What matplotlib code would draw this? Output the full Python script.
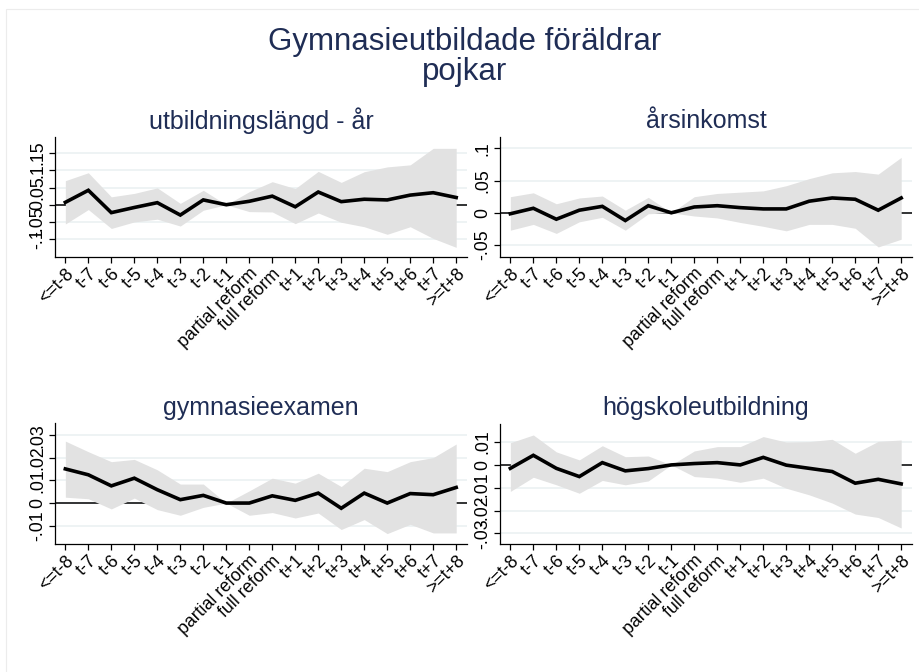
import matplotlib.pyplot as plt
from matplotlib.patches import Rectangle
import numpy as np

plt.rcParams['font.family'] = ['Liberation Sans', 'DejaVu Sans']

categories = ["<=t-8", "t-7", "t-6", "t-5", "t-4", "t-3", "t-2", "t-1",
              "partial reform", "full reform", "t+1", "t+2", "t+3", "t+4",
              "t+5", "t+6", "t+7", ">=t+8"]

# utbildningslängd - år
utb_est = [0.007, 0.042, -0.023, -0.008, 0.006, -0.030, 0.014, 0.0, 0.010,
           0.025, -0.006, 0.037, 0.009, 0.016, 0.014, 0.028, 0.035, 0.021]
utb_hi = [0.070, 0.093, 0.023, 0.033, 0.049, 0.004, 0.042, 0.0, 0.038,
          0.067, 0.047, 0.097, 0.065, 0.096, 0.110, 0.116, 0.164, 0.164]
utb_lo = [-0.056, -0.014, -0.069, -0.050, -0.042, -0.062, -0.016, 0.0, -0.020,
          -0.021, -0.055, -0.024, -0.051, -0.064, -0.086, -0.064, -0.098, -0.124]

# årsinkomst
ink_est = [-0.0015, 0.007, -0.010, 0.004, 0.010, -0.012, 0.011, 0.0, 0.009,
           0.011, 0.008, 0.006, 0.006, 0.018, 0.023, 0.021, 0.004, 0.023]
ink_hi = [0.025, 0.031, 0.014, 0.023, 0.026, 0.004, 0.024, 0.0, 0.025,
          0.030, 0.032, 0.034, 0.042, 0.053, 0.062, 0.064, 0.060, 0.086]
ink_lo = [-0.027, -0.018, -0.032, -0.014, -0.007, -0.027, -0.0015, 0.0, -0.005,
          -0.008, -0.015, -0.021, -0.028, -0.018, -0.018, -0.024, -0.053, -0.041]

# gymnasieexamen
gym_est = [0.0151, 0.0125, 0.0076, 0.0110, 0.0059, 0.0015, 0.0034, 0.0, 0.0,
           0.0032, 0.0012, 0.0044, -0.0023, 0.0044, 0.0, 0.0042, 0.0037, 0.0069]
gym_hi = [0.0274, 0.0227, 0.0183, 0.0193, 0.0147, 0.0084, 0.0084, 0.0, 0.0054,
          0.0110, 0.0088, 0.0132, 0.0073, 0.0154, 0.0139, 0.0183, 0.0201, 0.0261]
gym_lo = [0.0026, 0.0019, -0.0026, 0.0022, -0.0029, -0.0054, -0.0019, 0.0, -0.0054,
          -0.0042, -0.0066, -0.0044, -0.0117, -0.0073, -0.0135, -0.0094, -0.0132, -0.0132]

# högskoleutbildning
hog_est = [-0.0015, 0.0042, -0.0015, -0.0051, 0.0010, -0.0026, -0.0016, 0.0, 0.0006,
           0.0010, 0.0, 0.0033, -0.0001, -0.0015, -0.0029, -0.0080, -0.0063, -0.0083]
hog_hi = [0.0097, 0.0131, 0.0057, 0.0022, 0.0084, 0.0036, 0.0039, 0.0, 0.0061,
          0.0080, 0.0080, 0.0124, 0.0100, 0.0102, 0.0112, 0.0051, 0.0103, 0.0109]
hog_lo = [-0.0116, -0.0054, -0.0087, -0.0124, -0.0068, -0.0087, -0.0070, 0.0, -0.0051,
          -0.0058, -0.0076, -0.0058, -0.0102, -0.0131, -0.0167, -0.0215, -0.0230, -0.0276]

utb_ticks = [-0.1, -0.05, 0, 0.05, 0.1, 0.15]
utb_ticklabels = ["-.1", "-.05", "0", ".05", ".1", ".15"]
ink_ticks = [-0.05, 0, 0.05, 0.1]
ink_ticklabels = ["-.05", "0", ".05", ".1"]
gym_ticks = [-0.01, 0, 0.01, 0.02, 0.03]
gym_ticklabels = ["-.01", "0", ".01", ".02", ".03"]
hog_ticks = [-0.03, -0.02, -0.01, 0, 0.01]
hog_ticklabels = ["-.03", "-.02", "-.01", "0", ".01"]

W, H = 919, 672
navy = "#1f2d55"
band = "#e2e2e2"
grid = "#e9f0f1"


def px_axes(fig, x0, y0, x1, y1):
    return fig.add_axes([x0 / W, 1 - y1 / H, (x1 - x0) / W, (y1 - y0) / H])


def draw_panel(ax, est, lo, hi, ticks, ticklabels, ylim, title, title_y):
    x = np.arange(len(categories))
    for t in ticks:
        ax.axhline(t, color=grid, lw=1.1, zorder=0)
    ax.axhline(0, color="black", lw=1.1, zorder=1)
    ax.fill_between(x, lo, hi, color=band, lw=0, zorder=2)
    ax.plot(x, est, color="black", lw=2.6, zorder=3, solid_joinstyle="miter")
    ax.set_xlim(-0.45, len(categories) - 1 + 0.47)
    ax.set_ylim(*ylim)
    ax.set_xticks(x)
    ax.set_xticklabels(categories, rotation=45, ha="right", va="top",
                       rotation_mode="anchor", fontsize=12.8)
    ax.set_yticks(ticks)
    ax.set_yticklabels(ticklabels, rotation=90, va="center", fontsize=12.8)
    ax.tick_params(length=4.5, width=0.9, pad=1.5)
    for s in ("top", "right"):
        ax.spines[s].set_visible(False)
    for s in ("left", "bottom"):
        ax.spines[s].set_linewidth(0.9)
    bb = ax.get_position()
    fig.text((bb.x0 + bb.x1) / 2, 1 - title_y / H, title, ha="center",
             va="center", fontsize=18, color=navy)


fig = plt.figure(figsize=(W / 100, H / 100), dpi=100)
fig.patches.append(Rectangle((6 / W, -0.1), 1.1, 1 - 9 / H + 0.1,
                             transform=fig.transFigure, fill=False,
                             edgecolor="#ececec", lw=0.8))

fig.text(465 / W, 1 - 42 / H, "Gymnasieutbildade föräldrar", ha="center",
         va="center", fontsize=22.5, color=navy)
fig.text(465 / W, 1 - 72 / H, "pojkar", ha="center", va="center",
         fontsize=22.5, color=navy)

ax1 = px_axes(fig, 55, 137, 467, 257)
draw_panel(ax1, utb_est, utb_lo, utb_hi, utb_ticks, utb_ticklabels,
           (-0.152, 0.197), "utbildningslängd - år", 121)
ax2 = px_axes(fig, 500, 137, 912, 257)
draw_panel(ax2, ink_est, ink_lo, ink_hi, ink_ticks, ink_ticklabels,
           (-0.0686, 0.1176), "årsinkomst", 121)
ax3 = px_axes(fig, 55, 423, 467, 544)
draw_panel(ax3, gym_est, gym_lo, gym_hi, gym_ticks, gym_ticklabels,
           (-0.0181, 0.0354), "gymnasieexamen", 408)
ax4 = px_axes(fig, 500, 424, 912, 544)
draw_panel(ax4, hog_est, hog_lo, hog_hi, hog_ticks, hog_ticklabels,
           (-0.0346, 0.0179), "högskoleutbildning", 408)

fig.savefig("out.png", dpi=100)
